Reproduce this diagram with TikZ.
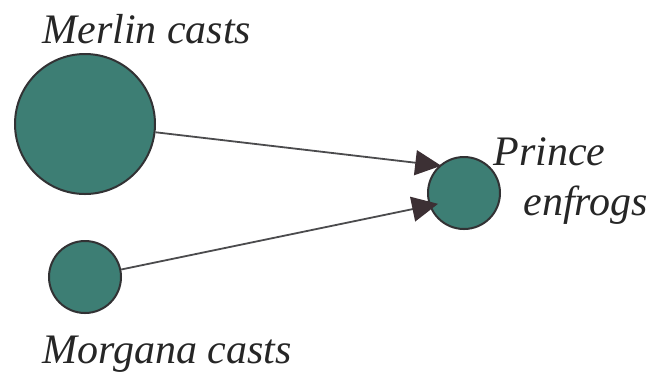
\documentclass[tikz,border=0pt]{standalone}
\usepackage{fontspec}
\setmainfont{Liberation Serif}
\usetikzlibrary{arrows.meta}
\definecolor{teal1}{RGB}{61,126,116}
\definecolor{rim}{RGB}{50,50,52}
\definecolor{tip}{RGB}{60,48,52}
\definecolor{wire}{RGB}{75,75,77}
\tikzset{
  ball/.style={circle,draw=rim,line width=1pt,fill=teal1,inner sep=0pt},
  lbl/.style={font=\fontsize{21}{25}\selectfont\itshape,inner sep=0pt,anchor=base west,text=black!85},
  cast/.style={draw=wire,line width=0.9pt,-{Triangle[length=13pt,width=12.5pt,color=tip]}}
}
\begin{document}
\begin{tikzpicture}[x=0.5pt,y=-0.5pt]
\useasboundingbox (0,0) rectangle (654,372);
\node[ball,minimum size=70pt] (m) at (85,124) {};
\node[ball,minimum size=36pt] (g) at (85,277) {};
\node[ball,minimum size=36pt] (p) at (464,193) {};
\node[lbl] (tm) at (42,43) {Merlin casts};
\node[lbl] (tg) at (42,363) {Morgana casts};
\node[lbl] (tp1) at (493,165) {Prince};
\node[lbl] (tp2) at (523,215) {enfrogs};
\draw[cast,shorten >=-1pt] (m) -- (p.132);
\draw[cast,shorten >=-4.5pt] (g) -- (p.200);
\end{tikzpicture}
\end{document}
